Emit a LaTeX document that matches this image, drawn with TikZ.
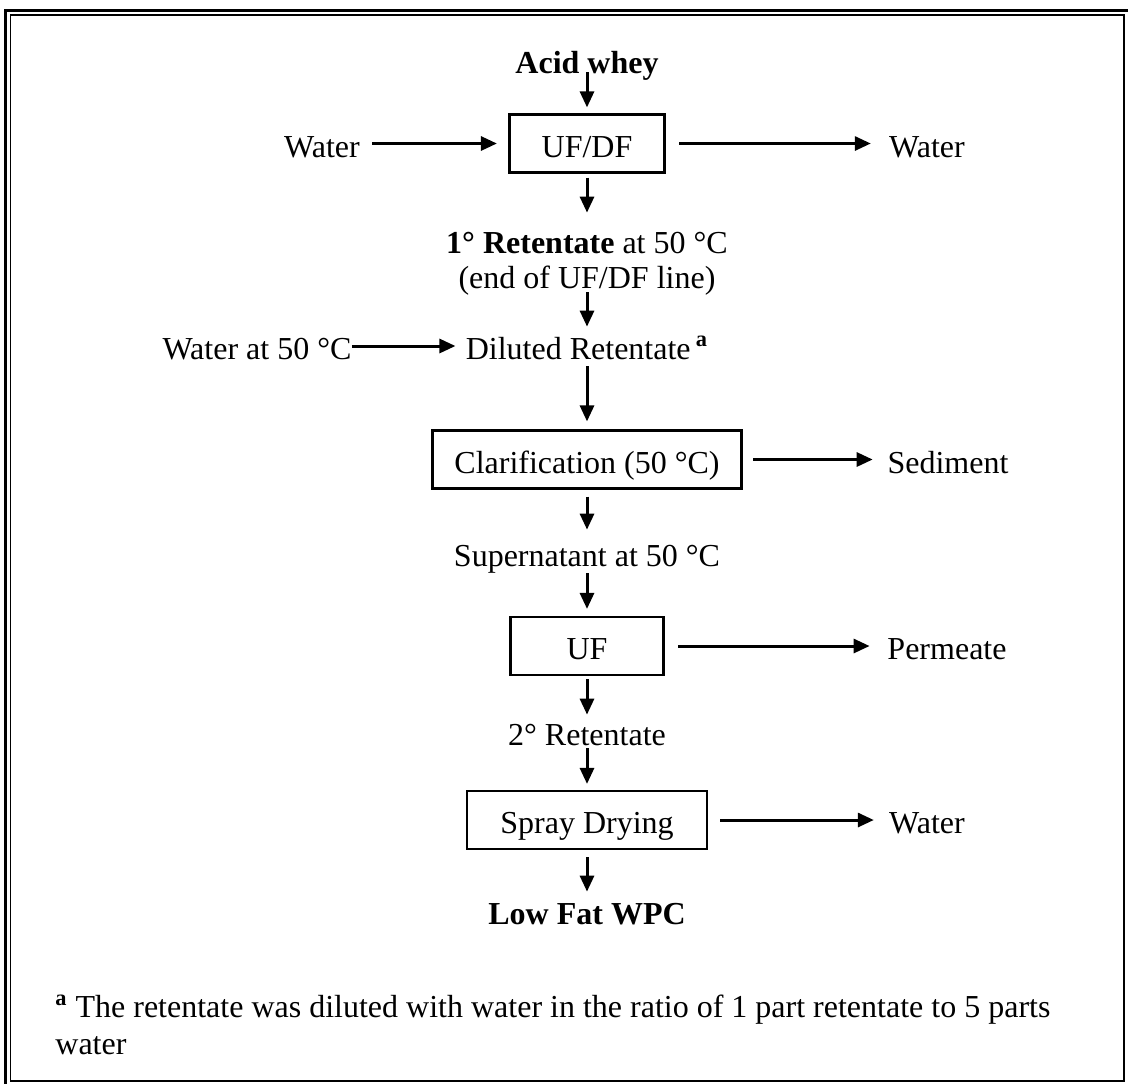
\documentclass[tikz,border=0pt]{standalone}
\usepackage{fontspec}
\setmainfont{Liberation Serif}
\usetikzlibrary{arrows.meta}

\begin{document}
\begin{tikzpicture}[x=0.5pt,y=-0.5pt,
            every node/.style={font=\fontsize{16pt}{18.5pt}\selectfont},
            txt/.style={inner sep=0pt,text height=14pt,text depth=0.5pt},
            box/.style={draw,line width=1.1pt,minimum height=29pt,inner sep=0pt,text height=14pt,text depth=0.5pt},
            flow/.style={line width=1.5pt,-{Triangle[length=8pt,width=7pt]}}]
            \useasboundingbox (0,0) rectangle (1128,1083);
            \clip (0,0) rectangle (1128,1083);
            \draw[line width=1.5pt] (5,10) rectangle (1150,1100);
            \draw[line width=0.8pt] (10.5,15) rectangle (1124,1081);
            \node[txt] (whey) at (587,60) {\textbf{Acid whey}};
            \node[box,minimum width=77.5pt] (ufdf) at (587,143.5) {UF/DF};
            \node[txt] (wl) at (322,143.5) {Water};
            \node[txt] (wr) at (927,143.5) {Water};
            \node[txt] (ret1) at (587,240) {\textbf{1° Retentate} at 50 °C};
            \node[txt] (ret1b) at (587,275) {(end of UF/DF line)};
            \node[txt] (dil) at (587,346) {Diluted Retentate\,\textsuperscript{\textbf{a}}};
            \node[txt] (wl2) at (257,346) {Water at 50 °C};
            \node[box,minimum width=154.5pt] (clar) at (587,459.5) {Clarification (50 °C)};
            \node[txt] (sed) at (948,459.5) {Sediment};
            \node[txt] (sup) at (587,553) {Supernatant at 50 °C};
            \node[box,minimum width=76.5pt] (uf) at (587,646) {UF};
            \node[txt] (perm) at (947,646) {Permeate};
            \node[txt] (ret2) at (587,732) {2° Retentate};
            \node[box,minimum width=120pt] (spray) at (587,820) {Spray Drying};
            \node[txt] (wr3) at (927,820) {Water};
            \node[txt] (wpc) at (587,911) {\textbf{Low Fat WPC}};
            \node[inner sep=0pt,align=left,anchor=west] (note) at (55,1025) {\textsuperscript{\textbf{a}} The retentate was diluted with water in the ratio of 1 part retentate to 5 parts\\water};
            \draw[flow,shorten <=-1.25pt,shorten >=3pt] (whey) -- (ufdf);
            \draw[flow,shorten <=2pt,shorten >=6.25pt] (ufdf) -- (ret1);
            \draw[flow,shorten <=1.25pt,shorten >=2.25pt] (ret1b) -- (dil);
            \draw[flow,shorten <=2.75pt,shorten >=4pt] (dil) -- (clar);
            \draw[flow,shorten <=3.5pt,shorten >=4.25pt] (clar) -- (sup);
            \draw[flow,shorten <=2.75pt,shorten >=3.5pt] (sup) -- (uf);
            \draw[flow,shorten <=1.5pt,shorten >=1.25pt] (uf) -- (ret2);
            \draw[flow,shorten <=0.75pt,shorten >=3pt] (ret2) -- (spray);
            \draw[flow,shorten <=3.5pt,shorten >=2.25pt] (spray) -- (wpc);
            \draw[flow,shorten <=6pt,shorten >=5.75pt] (wl) -- (ufdf);
            \draw[flow,shorten <=6.75pt,shorten >=9pt] (ufdf) -- (wr);
            \draw[flow,shorten >=5pt] (wl2) -- (dil);
            \draw[flow,shorten <=5.25pt,shorten >=7.25pt] (clar) -- (sed);
            \draw[flow,shorten <=6.75pt,shorten >=8.75pt] (uf) -- (perm);
            \draw[flow,shorten <=6pt,shorten >=7.5pt] (spray) -- (wr3);
        \end{tikzpicture}
\end{document}
